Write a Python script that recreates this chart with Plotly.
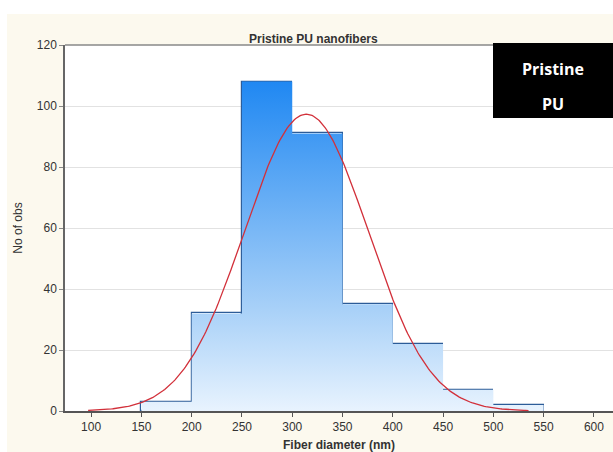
import numpy as np
import plotly.graph_objects as go

# Data
bin_left = [150, 200, 250, 300, 350, 400, 450, 500]
bin_width = 50
counts = [3, 32, 108, 91, 35, 22, 7, 2]
x_ticks = [100, 150, 200, 250, 300, 350, 400, 450, 500, 550, 600]
y_ticks = [0, 20, 40, 60, 80, 100, 120]
fit_mean = 314.0
fit_sd = 61.5
fit_range = [97, 535]

n_total = sum(counts)

fig = go.Figure()

# gradient-filled stepped outline of histogram
sx, sy = [], []
for l, c in zip(bin_left, counts):
    sx += [l, l, l + bin_width, l + bin_width]
    sy += [0, c, c, 0]
fig.add_trace(go.Scatter(
    x=sx, y=sy, mode="lines", fill="toself",
    line=dict(width=0, color="rgba(0,0,0,0)"),
    fillgradient=dict(type="vertical", start=0, stop=110,
                      colorscale=[[0, "#E8F3FE"], [0.3, "#A9D1F8"], [1, "#1C86F2"]]),
    hoverinfo="skip", showlegend=False))

# bar outlines
fig.add_trace(go.Bar(
    x=[l + bin_width / 2 for l in bin_left], y=counts, width=bin_width,
    marker=dict(color="rgba(0,0,0,0)", line=dict(color="#2C5C98", width=1.2)),
    showlegend=False))

# normal fit
xc = np.linspace(fit_range[0], fit_range[1], 300)
yc = n_total * bin_width * np.exp(-(xc - fit_mean) ** 2 / (2 * fit_sd ** 2)) / (fit_sd * np.sqrt(2 * np.pi))
fig.add_trace(go.Scatter(x=xc, y=yc, mode="lines",
                         line=dict(color="#D2303A", width=1.3), showlegend=False))

L, R, T, B = 65, 0, 45, 41
W, H = 613, 452
pw, ph = W - L - R, H - T - B

fig.update_layout(
    width=W, height=H,
    margin=dict(l=L, r=R, t=T, b=B),
    paper_bgcolor="white", plot_bgcolor="white",
    font=dict(family="Liberation Sans, Arial", size=12, color="#333333"),
    bargap=0,
    xaxis=dict(range=[74, 619], tickvals=x_ticks, showgrid=False, zeroline=False,
               showline=True, linecolor="#555555", linewidth=1.5,
               ticks="outside", ticklen=4, tickcolor="#555555",
               tickfont=dict(size=12, color="#333333"),
               title=dict(text="<b>Fiber diameter (nm)</b>", font=dict(size=12, color="#333333"), standoff=10)),
    yaxis=dict(range=[0, 120], tickvals=y_ticks, showgrid=True, gridcolor="#E2E2E2", gridwidth=1,
               zeroline=False, showline=True, linecolor="#666666", linewidth=1.5,
               ticks="outside", ticklen=4, tickcolor="#888888",
               tickfont=dict(size=12, color="#333333"),
               title=dict(text="No of obs", font=dict(size=12, color="#333333"), standoff=12)),
    shapes=[
        dict(type="rect", xref="paper", yref="paper", layer="below",
             x0=(7 - L) / pw, x1=1.05, y0=-0.2, y1=(H - B - 14) / ph,
             fillcolor="#FCF9EE", line=dict(width=0)),
        dict(type="rect", xref="paper", yref="paper", layer="below",
             x0=0, x1=1.01, y0=0, y1=1, fillcolor="white", line=dict(width=0)),
        dict(type="line", xref="paper", yref="paper", x0=0, x1=1, y0=1, y1=1,
             line=dict(color="#888888", width=1.5)),
        dict(type="rect", xref="paper", yref="paper",
             x0=(493 - L) / pw, x1=1.02, y0=(H - B - 118) / ph, y1=(H - B - 43) / ph,
             fillcolor="black", line=dict(width=0)),
    ],
    annotations=[
        dict(text="<b>Pristine PU nanofibers</b>", xref="paper", yref="paper",
             x=(313 - L) / pw, y=(H - B - 30) / ph, showarrow=False,
             font=dict(size=12, color="#333333")),
        dict(text="Pristine", xref="paper", yref="paper",
             x=(553 - L) / pw, y=(H - B - 69) / ph, showarrow=False,
             xanchor="center", yanchor="middle",
             font=dict(family="Open Sans", size=16, color="white", weight=700)),
        dict(text="PU", xref="paper", yref="paper",
             x=(553 - L) / pw, y=(H - B - 104) / ph, showarrow=False,
             xanchor="center", yanchor="middle",
             font=dict(family="Open Sans", size=16, color="white", weight=700)),
    ],
)

fig.write_html("out.html")
